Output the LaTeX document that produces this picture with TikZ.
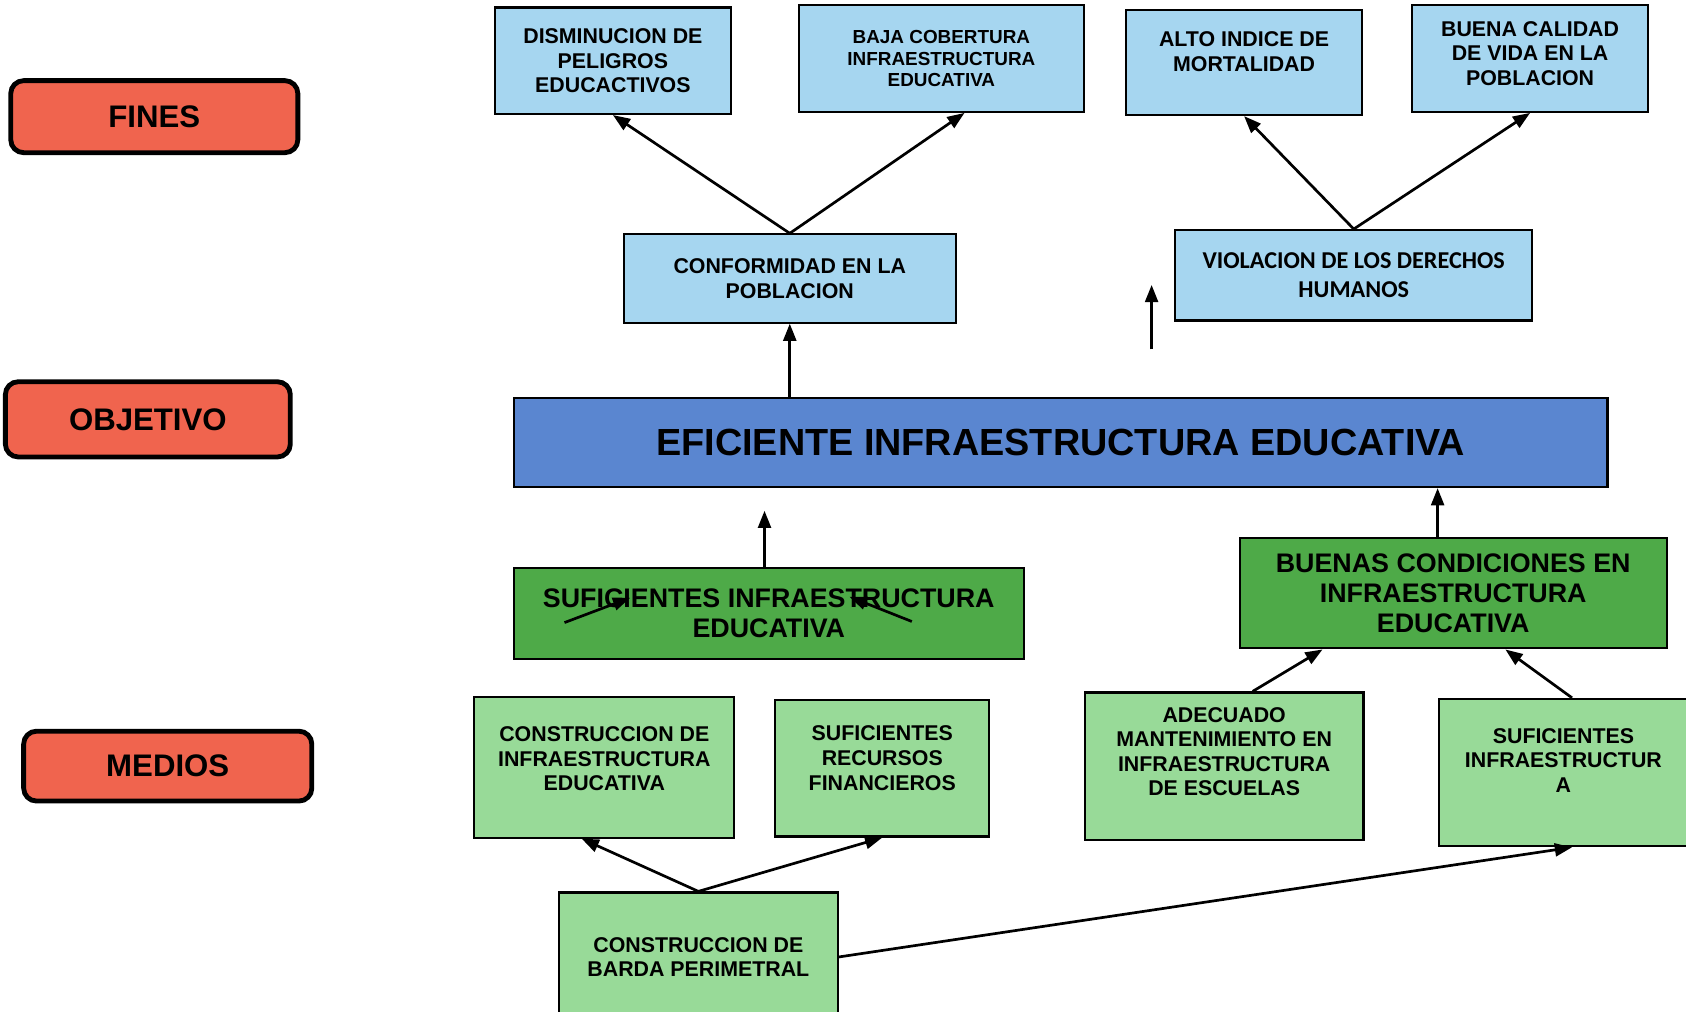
\documentclass[tikz,border=0pt]{standalone}
\usepackage{fontspec}
\setmainfont{Liberation Sans}
\newfontfamily\calibri{Carlito}
\usetikzlibrary{arrows.meta}

\definecolor{redlab}{RGB}{240,100,78}
\definecolor{lblue}{RGB}{166,214,240}
\definecolor{effblue}{RGB}{90,134,208}
\definecolor{dgreen}{RGB}{78,170,72}
\definecolor{lgreen}{RGB}{152,218,152}

\begin{document}
\begin{tikzpicture}[x=0.2mm,y=-0.2mm,
    sz/.style 2 args={minimum width=#1*0.2mm,minimum height=#2*0.2mm},
    lvl/.style={draw,line width=0.9mm,rounded corners=2.4mm,fill=redlab,
      font=\fontsize{16.5}{19}\selectfont\bfseries},
    fin/.style={draw,line width=0.4mm,fill=lblue,align=center,inner sep=0pt,
      font=\fontsize{11.3}{13}\selectfont\bfseries},
    med/.style={fin,fill=lgreen},
    big/.style={draw,line width=0.4mm,fill=dgreen,align=center,inner sep=0pt,
      font=\fontsize{14.2}{16}\selectfont\bfseries},
    arr/.style={-{Triangle[length=3.2mm,width=2.4mm]},line width=0.5mm}]
  \useasboundingbox (0,0) rectangle (1568,941);
  \fill[white] (0,0) rectangle (1568,941);
  \clip (0,0) rectangle (1568,941);

  \node[lvl,sz={267}{67}] (fines) at (143.5,108.5) {FINES};
  \node[lvl,sz={265}{70}] (objetivo) at (137.5,390) {OBJETIVO};
  \node[lvl,sz={268}{65}] (medios) at (156,712.5) {MEDIOS};

  \node[fin,sz={220}{99}] (dism) at (570,56.5) {DISMINUCION DE\\PELIGROS\\EDUCACTIVOS};
  \node[fin,sz={265}{99},font=\fontsize{10}{11.4}\selectfont\bfseries] (baja) at (875.5,54.5)
    {BAJA COBERTURA\\INFRAESTRUCTURA\\EDUCATIVA};
  \node[fin,sz={220}{98},text depth=4mm] (alto) at (1157,58) {ALTO INDICE DE\\MORTALIDAD};
  \node[fin,sz={220}{99},text depth=2mm] (buena) at (1423,54.5) {BUENA CALIDAD\\DE VIDA EN LA\\POBLACION};
  \node[fin,sz={309}{82}] (conf) at (734.5,259) {CONFORMIDAD EN LA\\POBLACION};
  \node[fin,sz={332}{84},font=\fontsize{12.8}{15.4}\calibri\bfseries] (viol) at (1259,256)
    {VIOLACION DE LOS DERECHOS\\HUMANOS};

  \node[draw,line width=0.4mm,fill=effblue,inner sep=0pt,sz={1017}{83},
    font=\fontsize{20}{24}\selectfont\bfseries] (efic) at (986.5,411.5)
    {EFICIENTE INFRAESTRUCTURA EDUCATIVA};

  \node[big,sz={474}{85}] (sufi) at (715,570.5) {SUFICIENTES INFRAESTRUCTURA\\EDUCATIVA};
  \node[big,sz={397}{103}] (buenas) at (1351.5,551.5)
    {BUENAS CONDICIONES EN\\INFRAESTRUCTURA\\EDUCATIVA};

  \node[med,sz={242}{131},text depth=3.2mm] (cinf) at (562,713.5)
    {CONSTRUCCION DE\\INFRAESTRUCTURA\\EDUCATIVA};
  \node[med,sz={199}{127},text depth=3.8mm] (recur) at (820.5,714.5)
    {SUFICIENTES\\RECURSOS\\FINANCIEROS};
  \node[med,sz={259}{137},text depth=5.4mm] (adec) at (1138.5,712.5)
    {ADECUADO\\MANTENIMIENTO EN\\INFRAESTRUCTURA\\DE ESCUELAS};
  \node[med,sz={232}{137},text depth=4.6mm] (sinf) at (1454,718.5)
    {SUFICIENTES\\INFRAESTRUCTUR\\A};
  \node[med,sz={259}{120}] (barda) at (649.5,890) {CONSTRUCCION DE\\BARDA PERIMETRAL};

  \coordinate (v0) at (1071,325);
  \coordinate (v1) at (1071,265);
  \coordinate (g0) at (711,475);
  \coordinate (a1) at (525,579);
  \coordinate (a2) at (586,556);
  \coordinate (a3) at (848,578);
  \coordinate (a4) at (790,555);

  \draw[arr] (conf.north) -- (dism.south);
  \draw[arr] (conf.north) -- ([xshift=4.3mm]baja.south);
  \draw[arr] (conf.south |- efic.north) -- (conf.south);
  \draw[arr] (viol.north) -- (alto.south);
  \draw[arr] (viol.north) -- (buena.south);
  \draw[arr] (v0) -- (v1);
  \draw[arr] (g0 |- sufi.north) -- (g0);
  \draw[arr] (a1) -- (a2);
  \draw[arr] (a3) -- (a4);
  \draw[arr] ([xshift=-2.9mm]buenas.north) -- ([xshift=-2.9mm]buenas.north |- efic.south);
  \draw[arr] (barda.north) -- ([xshift=-4.2mm]cinf.south);
  \draw[arr] (barda.north) -- (recur.south);
  \draw[arr] ([xshift=5.3mm]adec.north) -- ([xshift=-24.3mm]buenas.south);
  \draw[arr] ([xshift=1.6mm]sinf.north) -- ([xshift=9.7mm]buenas.south);
  \draw[arr] (barda.east) -- ([xshift=1.6mm]sinf.south);
\end{tikzpicture}
\end{document}
